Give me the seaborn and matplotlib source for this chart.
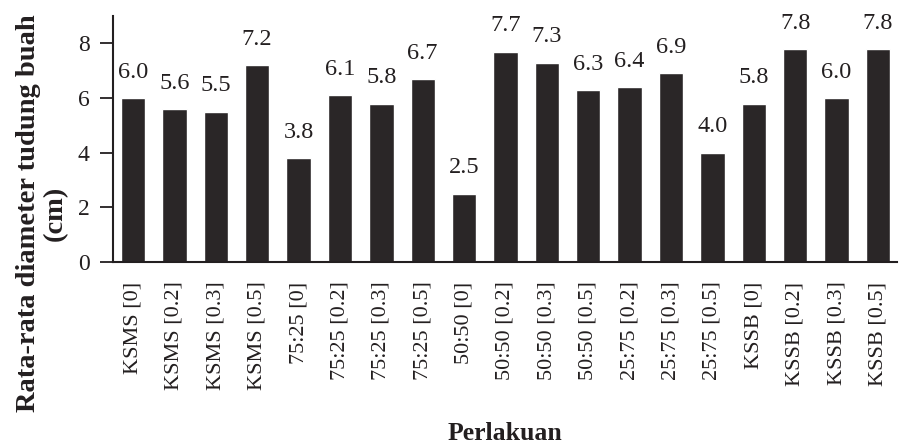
import matplotlib
matplotlib.use("Agg")
import matplotlib.pyplot as plt
import seaborn as sns
import pandas as pd

categories = ["KSMS [0]", "KSMS [0.2]", "KSMS [0.3]", "KSMS [0.5]",
              "75:25 [0]", "75:25 [0.2]", "75:25 [0.3]", "75:25 [0.5]",
              "50:50 [0]", "50:50 [0.2]", "50:50 [0.3]", "50:50 [0.5]",
              "25:75 [0.2]", "25:75 [0.3]", "25:75 [0.5]",
              "KSSB [0]", "KSSB [0.2]", "KSSB [0.3]", "KSSB [0.5]"]
values = [6.0, 5.6, 5.5, 7.2, 3.8, 6.1, 5.8, 6.7, 2.5, 7.7, 7.3, 6.3,
          6.4, 6.9, 4.0, 5.8, 7.8, 6.0, 7.8]
yticks = [0, 2, 4, 6, 8]

sns.set_style("ticks")
plt.rcParams["font.family"] = ["Liberation Serif", "DejaVu Serif"]

df = pd.DataFrame({"Perlakuan": categories, "Nilai": values})

fig = plt.figure(figsize=(9.02, 4.45), dpi=100)
ax = fig.add_axes([0.125, 0.411, 0.869, 0.553])

bar_color = "#2a2627"
sns.barplot(data=df, x="Perlakuan", y="Nilai", order=categories, color=bar_color,
            saturation=1, width=0.59, ax=ax)

for c in ax.containers:
    ax.bar_label(c, fmt="%.1f", padding=11, fontsize=17.5, color="#231f20")

ax.set_ylim(0, 9)
ax.set_xlim(-0.49, 18.45)
ax.set_yticks(yticks)
ax.set_yticklabels([str(t) for t in yticks], fontsize=17, color="#231f20")
ax.set_xticks(range(len(categories)))
ax.set_xticklabels(categories, rotation=90, fontsize=16, color="#231f20")
ax.tick_params(axis="y", length=9.5, width=1.3, pad=7, color="#231f20")
ax.tick_params(axis="x", length=0, pad=14)
ax.set_xlabel("")
ax.set_ylabel("")
sns.despine(ax=ax, top=True, right=True)
for s in ["left", "bottom"]:
    ax.spines[s].set_linewidth(1.5)
    ax.spines[s].set_color("#231f20")

fig.text(0.046, 0.521, "Rata-rata diameter tudung buah\n(cm)", rotation=90,
         ha="center", va="center", multialignment="center",
         fontsize=20.5, fontweight="bold", color="#231f20", linespacing=1.1)
fig.text(0.56, 0.025, "Perlakuan", ha="center", va="center",
         fontsize=18.5, fontweight="bold", color="#231f20")

fig.savefig("out.png", dpi=100)
